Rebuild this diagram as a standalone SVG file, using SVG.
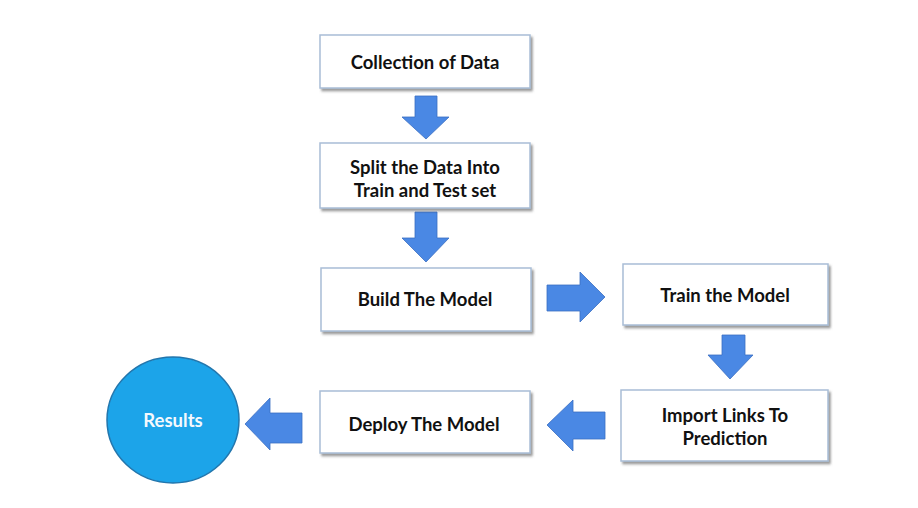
<svg xmlns="http://www.w3.org/2000/svg" width="918" height="508" viewBox="0 0 918 508">
<defs>
<filter id="sh" x="-10%" y="-10%" width="120%" height="130%">
<feDropShadow dx="2" dy="2.5" stdDeviation="1" flood-color="#555" flood-opacity="0.6"/>
</filter>
</defs>
<style>
.box{fill:#fff;stroke:#a9bdd6;stroke-width:1.5;filter:url(#sh)}
.lbl{font-family:Lato,"Open Sans","Liberation Sans",sans-serif;font-weight:700;font-size:18.5px;fill:#111;text-anchor:middle;dominant-baseline:central}
.arr{fill:#4a88e4;stroke:#3b6fc2;stroke-width:0.8}
.res{fill:#1ca4e9;stroke:#2276ad;stroke-width:1.5}
</style>
<rect width="918" height="508" fill="#fff"/>
<g id="connectors">
<polygon class="arr" points="415,96 437,96 437,117 449,117 426,139 402,117 415,117"/>
<polygon class="arr" points="415,212 437,212 437,238 449,238 426,262 402,238 415,238"/>
<polygon class="arr" points="547,285 580,285 580,272 605,297 580,322 580,311 547,311"/>
<polygon class="arr" points="722,335 745,335 745,355 753,355 730,379 708,355 722,355"/>
<polygon class="arr" points="605,412 573,412 573,400 547,425 573,451 573,439 605,439"/>
<polygon class="arr" points="302,413 270,413 270,398 245,424 270,450 270,443 302,443"/>
</g>
<g id="n1"><rect class="box" x="320" y="35" width="210" height="53"/><text class="lbl" x="425" y="62">Collection of Data</text></g>
<g id="n2"><rect class="box" x="320" y="143" width="210" height="65"/><text class="lbl" x="425" y="167">Split the Data Into</text><text class="lbl" x="425" y="190">Train and Test set</text></g>
<g id="n3"><rect class="box" x="321" y="268" width="210" height="63"/><text class="lbl" x="425" y="299">Build The Model</text></g>
<g id="n4"><rect class="box" x="623" y="264" width="205" height="61"/><text class="lbl" x="725" y="295">Train the Model</text></g>
<g id="n5"><rect class="box" x="621" y="390" width="207" height="71"/><text class="lbl" x="725" y="415">Import Links To</text><text class="lbl" x="725" y="438">Prediction</text></g>
<g id="n6"><rect class="box" x="320" y="391" width="210" height="62"/><text class="lbl" x="424" y="424">Deploy The Model</text></g>
<g id="n7"><ellipse class="res" cx="173" cy="420" rx="66" ry="63"/><text class="lbl" x="173" y="420" style="fill:#f4f9fd;font-size:18.5px">Results</text></g>
</svg>
